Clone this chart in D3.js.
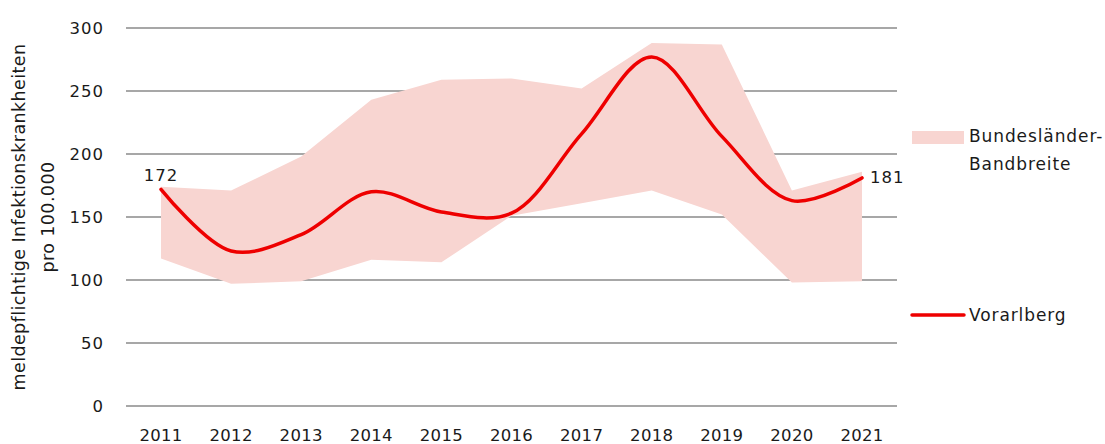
<!DOCTYPE html>
<html>
<head>
<meta charset="utf-8">
<script src="https://cdn.jsdelivr.net/npm/d3@7"></script>
<style>
  body { margin: 0; background: #fff; }
  text { font-family: "DejaVu Sans", sans-serif; fill: #1a1a1a; }
</style>
</head>
<body>
<svg id="chart" width="1105" height="444"></svg>
<script>
// data
var years = [2011, 2012, 2013, 2014, 2015, 2016, 2017, 2018, 2019, 2020, 2021];
var bandMax = [174, 171, 198, 243, 259, 260, 252, 288, 287, 171, 186];
var bandMin = [117, 97, 99, 116, 114, 151, 161, 171, 152, 98, 99];
var vorarlberg = [172, 123, 136, 170, 154, 153, 216, 277, 214, 163, 181];
var yTicks = [0, 50, 100, 150, 200, 250, 300];

var svg = d3.select("#chart");

var x = d3.scaleLinear().domain([2011, 2021]).range([161, 862]);
var y = d3.scaleLinear().domain([0, 300]).range([406, 28]);

var rows = years.map(function(d, i) {
    return {year: d, lo: bandMin[i], hi: bandMax[i], v: vorarlberg[i]};
});

// gridlines
svg.selectAll("line.grid")
    .data(yTicks)
    .enter()
    .append("line")
    .attr("class", "grid")
    .attr("x1", 126)
    .attr("x2", 897)
    .attr("y1", function(d){ return y(d); })
    .attr("y2", function(d){ return y(d); })
    .style("stroke", "#8a8a8a")
    .style("stroke-width", 1.6);

svg.selectAll("text.ytick")
    .data(yTicks)
    .enter()
    .append("text")
    .attr("class", "ytick")
    .attr("x", 104)
    .attr("y", function(d){ return y(d) + 6; })
    .attr("text-anchor", "end")
    .style("font-size", "16.5px")
    .style("letter-spacing", "1px")
    .text(function(d){ return d; });

svg.selectAll("text.xtick")
    .data(years)
    .enter()
    .append("text")
    .attr("class", "xtick")
    .attr("x", function(d){ return x(d); })
    .attr("y", 441)
    .attr("text-anchor", "middle")
    .style("font-size", "16.5px")
    .style("letter-spacing", "0.3px")
    .text(function(d){ return d; });

// band
var area = d3.area()
    .x(function(d){ return x(d.year); })
    .y0(function(d){ return y(d.lo); })
    .y1(function(d){ return y(d.hi); });

svg.append("path")
    .datum(rows)
    .attr("d", area)
    .style("fill", "#f8d5d1");

// line
var line = d3.line()
    .x(function(d){ return x(d.year); })
    .y(function(d){ return y(d.v); })
    .curve(d3.curveCatmullRom.alpha(0.5));

svg.append("path")
    .datum(rows)
    .attr("d", line)
    .style("fill", "none")
    .style("stroke", "#ee0000")
    .style("stroke-width", 3.5)
    .style("stroke-linecap", "round");

// end labels
var first = rows[0], last = rows[rows.length - 1];
svg.append("text")
    .attr("x", x(first.year))
    .attr("y", y(first.v) - 8)
    .attr("text-anchor", "middle")
    .style("font-size", "16.5px")
    .style("letter-spacing", "1px")
    .text(first.v);
svg.append("text")
    .attr("x", x(last.year) + 8)
    .attr("y", y(last.v) + 5)
    .style("font-size", "16.5px")
    .style("letter-spacing", "1px")
    .text(last.v);

// y title
var yt = svg.append("text")
    .attr("transform", "translate(0,217) rotate(-90)")
    .attr("text-anchor", "middle")
    .style("font-size", "17.5px")
    .style("letter-spacing", "0.4px");
yt.append("tspan").attr("x", 0).attr("y", 25).text("meldepflichtige Infektionskrankheiten");
yt.append("tspan").attr("x", 0).attr("y", 54).text("pro 100.000");

// legend
svg.append("rect")
    .attr("x", 912).attr("y", 131).attr("width", 52).attr("height", 13)
    .style("fill", "#f8d5d1");
var lt = svg.append("text").style("font-size", "17px").style("letter-spacing", "0.9px");
lt.append("tspan").attr("x", 969).attr("y", 142).text("Bundesländer-");
lt.append("tspan").attr("x", 969).attr("y", 170).text("Bandbreite");

svg.append("line")
    .attr("x1", 912).attr("x2", 964).attr("y1", 315).attr("y2", 315)
    .style("stroke", "#ee0000").style("stroke-width", 3.5).style("stroke-linecap", "round");
svg.append("text")
    .attr("x", 969).attr("y", 321)
    .style("font-size", "17px").style("letter-spacing", "0.9px")
    .text("Vorarlberg");
</script>
</body>
</html>
